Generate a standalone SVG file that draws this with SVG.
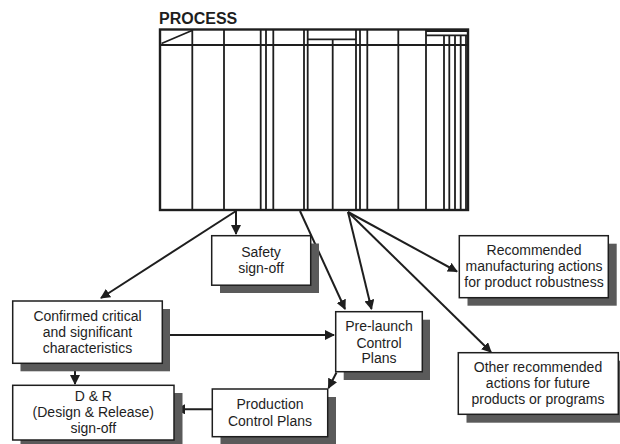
<svg xmlns="http://www.w3.org/2000/svg" width="620" height="444" viewBox="0 0 620 444">
<defs>
<style>
.t{font-family:"Liberation Sans",Arial,sans-serif;font-size:14px;fill:#1e1e1e;text-anchor:middle}
.box{fill:#fff;stroke:#1e1e1e;stroke-width:1.5}
.sh{fill:#5a5a5a}
.g{stroke:#1e1e1e;stroke-width:1.8;fill:none}
.c{stroke:#1e1e1e;stroke-width:2;fill:none;marker-end:url(#ah)}
</style>
<marker id="ah" viewBox="0 0 10 10" refX="9" refY="5" markerWidth="5" markerHeight="5" orient="auto" markerUnits="strokeWidth">
<path d="M0,0 L10,5 L0,10 z" fill="#1e1e1e"/>
</marker>
</defs>
<rect width="620" height="444" fill="#fff"/>
<g id="process">
<text x="159" y="24" font-family="'Liberation Sans',Arial,sans-serif" font-size="16" font-weight="bold" fill="#1e1e1e">PROCESS</text>
<rect x="160" y="29.5" width="308" height="180.5" fill="#fff" stroke="#1e1e1e" stroke-width="2.4"/>
<path class="g" d="M160,45H468 M161.5,43.5L192,30.5 M192.3,29.5V210 M224,29.5V210 M260.7,29.5V210 M266,29.5V210 M273.3,29.5V210 M304,29.5V210 M307.7,29.5V210 M307.7,39.3H356 M332.7,39.3V210 M356,29.5V210 M360,29.5V210 M367.3,29.5V210 M398.3,29.5V210 M426,29.5V210 M426,31H468 M426,35.3H468 M444,35.3V210 M449.3,35.3V210 M455,35.3V210 M460.7,35.3V210 M466,35.3V210"/>
</g>
<g id="connectors">
<path class="c" d="M236,211V234"/>
<path class="c" d="M236,211L101,298"/>
<path class="c" d="M300,211L345,309"/>
<path class="c" d="M348,212L371.5,309"/>
<path class="c" d="M348,212L457,271.5"/>
<path class="c" d="M348,212L491,352"/>
<path class="c" d="M162.5,335H334"/>
<path class="c" d="M75,363.5V384"/>
<path class="c" d="M336.5,372.5L328.5,388"/>
<path class="c" d="M212,409.3H176"/>
</g>
<g id="safety">
<rect class="sh" x="220" y="243.5" width="99" height="49.5"/>
<rect class="box" x="211.7" y="235.7" width="99" height="49.5"/>
<text class="t" x="261" y="256.5">Safety</text>
<text class="t" x="261" y="272.5">sign-off</text>
</g>
<g id="confirmed">
<rect class="sh" x="20.5" y="309" width="149.5" height="62.3"/>
<rect class="box" x="12.7" y="301" width="149.6" height="62.3"/>
<text class="t" x="87.5" y="321">Confirmed critical</text>
<text class="t" x="87.5" y="337">and significant</text>
<text class="t" x="87.5" y="353">characteristics</text>
</g>
<g id="dr">
<rect class="sh" x="20.5" y="393" width="162" height="56"/>
<rect class="box" x="12.7" y="385.3" width="161.3" height="54.7"/>
<text class="t" x="93.3" y="401">D &amp; R</text>
<text class="t" x="93.3" y="417">(Design &amp; Release)</text>
<text class="t" x="93.3" y="433">sign-off</text>
</g>
<g id="production">
<rect class="sh" x="220.5" y="397" width="115.5" height="50"/>
<rect class="box" x="212.3" y="389" width="115.4" height="47.7"/>
<text class="t" x="270" y="409">Production</text>
<text class="t" x="270" y="425.5">Control Plans</text>
</g>
<g id="prelaunch">
<rect class="sh" x="343.7" y="319.7" width="86.3" height="60.3"/>
<rect class="box" x="335.7" y="311.7" width="86.6" height="60"/>
<text class="t" x="379" y="331">Pre-launch</text>
<text class="t" x="379" y="347.5">Control</text>
<text class="t" x="379" y="363">Plans</text>
</g>
<g id="recommended">
<rect class="sh" x="467.5" y="243.7" width="149.2" height="62"/>
<rect class="box" x="459.3" y="235.7" width="149" height="62"/>
<text class="t" x="534" y="255">Recommended</text>
<text class="t" x="534" y="271">manufacturing actions</text>
<text class="t" x="534" y="287">for product robustness</text>
</g>
<g id="other">
<rect class="sh" x="466.5" y="360.7" width="160" height="62"/>
<rect class="box" x="458.3" y="352.7" width="160" height="61.6"/>
<text class="t" x="538" y="371.5">Other recommended</text>
<text class="t" x="538" y="388">actions for future</text>
<text class="t" x="538" y="403.5">products or programs</text>
</g>
</svg>
